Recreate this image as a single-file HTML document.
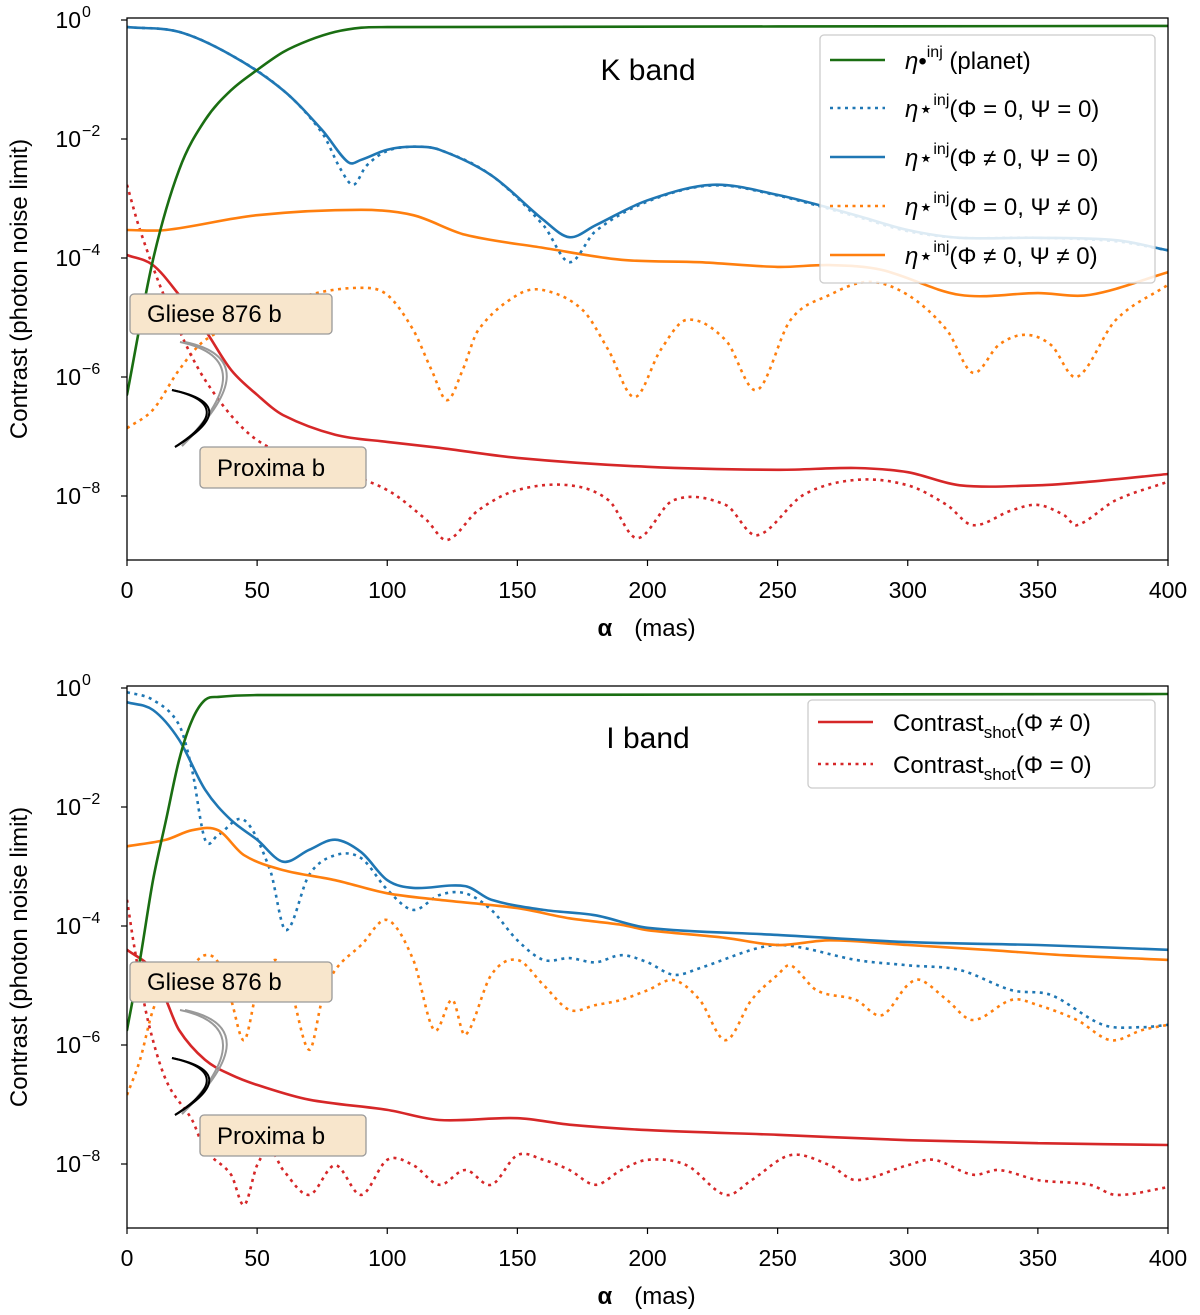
<!DOCTYPE html>
<html><head><meta charset="utf-8">
<style>
body{margin:0;background:#fff;}
svg{display:block;font-family:"Liberation Sans","DejaVu Sans",sans-serif;}
</style></head>
<body>
<svg id="fig" width="1200" height="1315" viewBox="0 0 1200 1315" xmlns="http://www.w3.org/2000/svg"></svg>
<script>
// ---- data (alpha in mas, values as log10 contrast) ----
const xTicks=[0,50,100,150,200,250,300,350,400];
const yTicks=[0,-2,-4,-6,-8];
// K band
const kGreenX=[0,10,20,30,40,50,60,70,80,90,100,400];
const kGreenY=[-6.30,-4.03,-2.52,-1.68,-1.18,-0.84,-0.54,-0.34,-0.20,-0.13,-0.12,-0.10];
const kBlueX=[0,20,40,60,75,85,90,100,110,120,140,160,170,180,200,225,250,280,300,320,350,380,400];
const kBlueY=[-0.12,-0.20,-0.59,-1.18,-1.85,-2.39,-2.35,-2.18,-2.13,-2.18,-2.61,-3.36,-3.65,-3.45,-3.03,-2.77,-2.94,-3.28,-3.53,-3.66,-3.66,-3.70,-3.87];
const kBlueDX=[0,20,40,60,75,82,87,92,100,110,120,140,160,170,180,200,225,250,280,300,320,350,380,400];
const kBlueDY=[-0.12,-0.20,-0.59,-1.18,-1.9,-2.5,-2.77,-2.45,-2.2,-2.13,-2.18,-2.61,-3.45,-4.07,-3.55,-3.05,-2.78,-2.95,-3.3,-3.55,-3.66,-3.66,-3.72,-3.87];
const kOrX=[0,15,50,90,110,130,160,190,220,250,270,290,320,350,370,400];
const kOrY=[-3.53,-3.53,-3.28,-3.19,-3.28,-3.61,-3.83,-4.03,-4.07,-4.15,-4.12,-4.20,-4.62,-4.59,-4.62,-4.24];
const kOrDX=[0,10,20,30,50,70,90,100,110,117,123,129,135,150,160,175,185,195,205,215,230,242,255,270,285,300,315,325,335,345,355,365,380,400];
const kOrDY=[-6.86,-6.55,-5.88,-5.38,-4.96,-4.62,-4.50,-4.62,-5.21,-5.88,-6.39,-5.88,-5.21,-4.62,-4.54,-4.87,-5.55,-6.34,-5.55,-5.04,-5.38,-6.22,-5.04,-4.62,-4.40,-4.62,-5.21,-5.93,-5.46,-5.29,-5.46,-6.0,-5.04,-4.45];
const kRedX=[0,10,20,30,40,50,60,80,100,120,150,200,250,280,300,320,350,370,400];
const kRedY=[-3.95,-4.12,-4.62,-5.21,-5.88,-6.30,-6.64,-6.97,-7.09,-7.19,-7.36,-7.51,-7.56,-7.53,-7.60,-7.82,-7.82,-7.76,-7.63];
const kRedDX=[0,5,15,30,50,80,100,115,123,135,150,170,185,196,210,230,242,260,280,300,315,325,340,350,360,365,380,400];
const kRedDY=[-2.77,-3.53,-4.71,-6.05,-7.06,-7.56,-7.90,-8.40,-8.74,-8.24,-7.90,-7.82,-8.07,-8.71,-8.07,-8.15,-8.66,-7.98,-7.73,-7.82,-8.15,-8.49,-8.24,-8.15,-8.32,-8.49,-8.07,-7.76];
// I band
const iGreenX=[0,5,10,15,20,25,30,35,50,400];
const iGreenY=[-5.75,-4.57,-3.23,-2.22,-1.21,-0.54,-0.20,-0.15,-0.12,-0.10];
const iBlueX=[0,10,20,30,40,50,60,70,80,90,100,110,130,140,160,180,200,250,300,350,400];
const iBlueY=[-0.24,-0.37,-0.87,-1.71,-2.22,-2.55,-2.92,-2.72,-2.55,-2.76,-3.23,-3.36,-3.33,-3.56,-3.73,-3.82,-4.03,-4.15,-4.27,-4.32,-4.40];
const iBlueDX=[0,10,20,25,30,35,45,55,61,70,80,90,100,110,120,130,140,150,160,170,180,190,200,210,220,240,250,260,280,300,320,340,355,375,390,400];
const iBlueDY=[-0.07,-0.20,-0.62,-1.38,-2.55,-2.47,-2.22,-3.06,-4.07,-3.14,-2.81,-2.86,-3.39,-3.73,-3.48,-3.45,-3.73,-4.24,-4.57,-4.54,-4.61,-4.49,-4.61,-4.82,-4.71,-4.40,-4.32,-4.37,-4.57,-4.66,-4.74,-5.08,-5.16,-5.66,-5.70,-5.66];
const iOrX=[0,15,25,35,45,60,80,100,120,150,170,190,200,230,250,270,300,330,360,400];
const iOrY=[-2.66,-2.55,-2.39,-2.39,-2.81,-3.06,-3.23,-3.45,-3.56,-3.70,-3.87,-3.98,-4.07,-4.20,-4.32,-4.24,-4.32,-4.40,-4.49,-4.57];
const iOrDX=[0,5,10,15,25,30,35,40,45,50,57,63,70,75,80,90,100,110,118,125,130,140,150,160,170,180,190,200,210,220,230,240,250,255,265,280,290,300,305,315,325,340,350,365,378,390,400];
const iOrDY=[-6.84,-6.25,-5.41,-4.99,-4.66,-4.49,-4.61,-5.24,-5.92,-5.08,-4.57,-5.08,-6.08,-5.24,-4.74,-4.32,-3.90,-4.57,-5.75,-5.24,-5.83,-4.82,-4.57,-4.99,-5.41,-5.33,-5.24,-5.08,-4.91,-5.24,-5.92,-5.24,-4.82,-4.66,-5.08,-5.24,-5.50,-4.99,-4.91,-5.24,-5.58,-5.24,-5.33,-5.58,-5.92,-5.75,-5.66];
const iRedX=[0,10,15,20,30,40,50,70,100,120,150,170,200,250,300,350,400];
const iRedY=[-4.40,-4.74,-5.24,-5.75,-6.25,-6.50,-6.67,-6.92,-7.09,-7.26,-7.23,-7.34,-7.43,-7.51,-7.60,-7.65,-7.68];
const iRedDX=[0,3,8,15,25,30,40,45,50,55,60,70,80,90,100,110,120,130,140,150,160,170,180,190,200,215,230,240,255,270,280,300,310,325,335,350,370,380,400];
const iRedDY=[-3.56,-4.40,-5.58,-6.59,-7.26,-7.76,-8.18,-8.69,-8.02,-7.76,-8.10,-8.52,-8.02,-8.52,-7.93,-8.02,-8.35,-8.10,-8.35,-7.85,-7.93,-8.10,-8.35,-8.10,-7.93,-8.02,-8.52,-8.27,-7.85,-8.02,-8.27,-8.02,-7.93,-8.18,-8.10,-8.27,-8.35,-8.52,-8.39];

const NS="http://www.w3.org/2000/svg";
const svg=document.getElementById('fig');
function mk(tag,attrs,parent){const e=document.createElementNS(NS,tag);for(const k in attrs)e.setAttribute(k,attrs[k]);(parent||svg).appendChild(e);return e;}
const C={green:'#1a6e12',blue:'#1f77b4',orange:'#ff7f0e',red:'#d62728'};
const X0=127,X1=1168;
function sx(v){return X0+(v/400)*(X1-X0);}
function smooth(pts){
 const n=pts.length;const m=[];
 for(let i=0;i<n;i++){const a=pts[Math.max(0,i-1)],b=pts[Math.min(n-1,i+1)];m.push((b[1]-a[1])/(b[0]-a[0]));}
 let d='M'+pts[0][0].toFixed(1)+','+pts[0][1].toFixed(1);
 for(let i=0;i<n-1;i++){const p1=pts[i],p2=pts[i+1],dx=(p2[0]-p1[0])/3;
  const c1=[p1[0]+dx,p1[1]+m[i]*dx],c2=[p2[0]-dx,p2[1]-m[i+1]*dx];
  d+=' C'+c1[0].toFixed(1)+','+c1[1].toFixed(1)+' '+c2[0].toFixed(1)+','+c2[1].toFixed(1)+' '+p2[0].toFixed(1)+','+p2[1].toFixed(1);}
 return d;}

function panel(id,yTop0,top,bottom,series,title,titleY){
 const sy=v=>yTop0-v*59.5;
 const g=mk('g',{});
 
 
 const cp=mk('clipPath',{id:'clip-'+id},g);mk('rect',{x:X0,y:top,width:X1-X0,height:bottom-top},cp);
 const lines=mk('g',{'clip-path':'url(#clip-'+id+')'},g);
 series.forEach(s=>{const pts=s.x.map((v,i)=>[sx(v),sy(s.y[i])]);
  const p=mk('path',{d:smooth(pts),fill:'none',stroke:s.c,'stroke-width':2.6,'stroke-dasharray':s.dot?'3,4.5':'none','stroke-linecap':s.dot?'butt':'round'},lines);
  
  });
 const fr=mk('rect',{x:X0,y:top,width:X1-X0,height:bottom-top,fill:'none',stroke:'#000','stroke-width':1.3},g);
 
 
 xTicks.forEach(v=>{mk('line',{x1:sx(v),x2:sx(v),y1:bottom,y2:bottom+6,stroke:'#000','stroke-width':1.2},g);
  const t=mk('text',{x:sx(v),y:bottom+38,'text-anchor':'middle','font-size':23},g);t.textContent=v;
  
  });
 yTicks.forEach(v=>{const y=sy(v);mk('line',{x1:X0-6,x2:X0,y1:y,y2:y,stroke:'#000','stroke-width':1.2},g);
  const t=mk('text',{x:X0-46,y:y+8,'text-anchor':'end','font-size':23},g);t.textContent='10';
  
  
  const e=mk('text',{x:X0-45,y:y-3,'font-size':16},g);e.textContent=v===0?'0':'\u2212'+(-v);});
 const xl=mk('text',{x:sx(200)-50,y:bottom+76,'font-size':24},g);
 
 
 xl.innerHTML='<tspan font-weight="bold">\u03b1</tspan><tspan dx="22">(mas)</tspan>';
 const yl=mk('text',{x:0,y:0,'font-size':24,'text-anchor':'middle',transform:'translate(27,'+((top+bottom)/2)+') rotate(-90)'},g);
 yl.textContent='Contrast (photon noise limit)';
 
 
 const tt=mk('text',{x:648,y:titleY,'text-anchor':'middle','font-size':30},g);tt.textContent=title;
 
 
 const o=sy(0)-20;
 const ag=mk('g',{},g);
 
 
 mk('rect',{x:130,y:o+294,width:202,height:40,rx:4,fill:'#f8e6cc',stroke:'#999','stroke-width':1.3},ag);
 const t1=mk('text',{x:147,y:o+322,'font-size':24},ag);t1.textContent='Gliese 876 b';
 
 
 [0,5].forEach(d=>mk('path',{d:`M${180+d},${o+342} Q${265+d},${o+360} ${182},${o+446}`,fill:'none',stroke:'#999','stroke-width':2},ag));
 [0,5].forEach(d=>mk('path',{d:`M${172},${o+390} Q${240+d},${o+405} ${175},${o+447}`,fill:'none',stroke:'#000','stroke-width':2},ag));
 mk('rect',{x:200,y:o+447,width:166,height:41,rx:4,fill:'#f8e6cc',stroke:'#999','stroke-width':1.3},ag);
 const t2=mk('text',{x:217,y:o+476,'font-size':24},ag);t2.textContent='Proxima b';
 
 
 return g;
}

panel('k-band',20,18,560,[
 {x:kOrDX,y:kOrDY,c:C.orange,dot:1,name:'orange-dotted-k'},
 {x:kRedDX,y:kRedDY,c:C.red,dot:1,name:'red-dotted-k'},
 {x:kRedX,y:kRedY,c:C.red,name:'red-solid-k'},
 {x:kOrX,y:kOrY,c:C.orange,name:'orange-solid-k'},
 {x:kBlueDX,y:kBlueDY,c:C.blue,dot:1,name:'blue-dotted-k'},
 {x:kBlueX,y:kBlueY,c:C.blue,name:'blue-solid-k'},
 {x:kGreenX,y:kGreenY,c:C.green,name:'green-planet-k'}],'K band',80);
panel('i-band',688,686,1228,[
 {x:iOrDX,y:iOrDY,c:C.orange,dot:1,name:'orange-dotted-i'},
 {x:iRedDX,y:iRedDY,c:C.red,dot:1,name:'red-dotted-i'},
 {x:iRedX,y:iRedY,c:C.red,name:'red-solid-i'},
 {x:iBlueDX,y:iBlueDY,c:C.blue,dot:1,name:'blue-dotted-i'},
 {x:iOrX,y:iOrY,c:C.orange,name:'orange-solid-i'},
 {x:iBlueX,y:iBlueY,c:C.blue,name:'blue-solid-i'},
 {x:iGreenX,y:iGreenY,c:C.green,name:'green-planet-i'}],'I band',748);

function legend(x,y,w,h,entries,name){
 const g=mk('g',{});
 
 
 mk('rect',{x:x,y:y,width:w,height:h,rx:4,fill:'#fff','fill-opacity':0.85,stroke:'#ccc','stroke-width':1.3},g);
 entries.forEach(e=>{const eg=mk('g',{},g);
  
  
  mk('line',{x1:x+10,x2:x+65,y1:e.y,y2:e.y,stroke:e.c,'stroke-width':2.6,'stroke-dasharray':e.dot?'3,4.5':'none'},eg);
  const t=mk('text',{x:x+85,y:e.y+9,'font-size':24},eg);t.innerHTML=e.html;});
}
const eta=(sym,rest)=>`<tspan font-style="italic">\u03b7</tspan><tspan>${sym}</tspan><tspan font-size="16" dy="-12">inj</tspan><tspan dy="12">${rest}</tspan>`;
legend(820,35,335,248,[
 {y:60,c:C.green,html:eta('\u2022',' (planet)')},
 {y:108,c:C.blue,dot:1,html:eta('\u22c6','(\u03a6 = 0, \u03a8 = 0)')},
 {y:157,c:C.blue,html:eta('\u22c6','(\u03a6 \u2260 0, \u03a8 = 0)')},
 {y:206,c:C.orange,dot:1,html:eta('\u22c6','(\u03a6 = 0, \u03a8 \u2260 0)')},
 {y:255,c:C.orange,html:eta('\u22c6','(\u03a6 \u2260 0, \u03a8 \u2260 0)')}],'k-band-legend');
legend(808,700,347,88,[
 {y:722,c:C.red,html:'Contrast<tspan font-size="17" dy="7">shot</tspan><tspan dy="-7">(\u03a6 \u2260 0)</tspan>'},
 {y:764,c:C.red,dot:1,html:'Contrast<tspan font-size="17" dy="7">shot</tspan><tspan dy="-7">(\u03a6 = 0)</tspan>'}],'i-band-legend');
</script>
</body></html>
